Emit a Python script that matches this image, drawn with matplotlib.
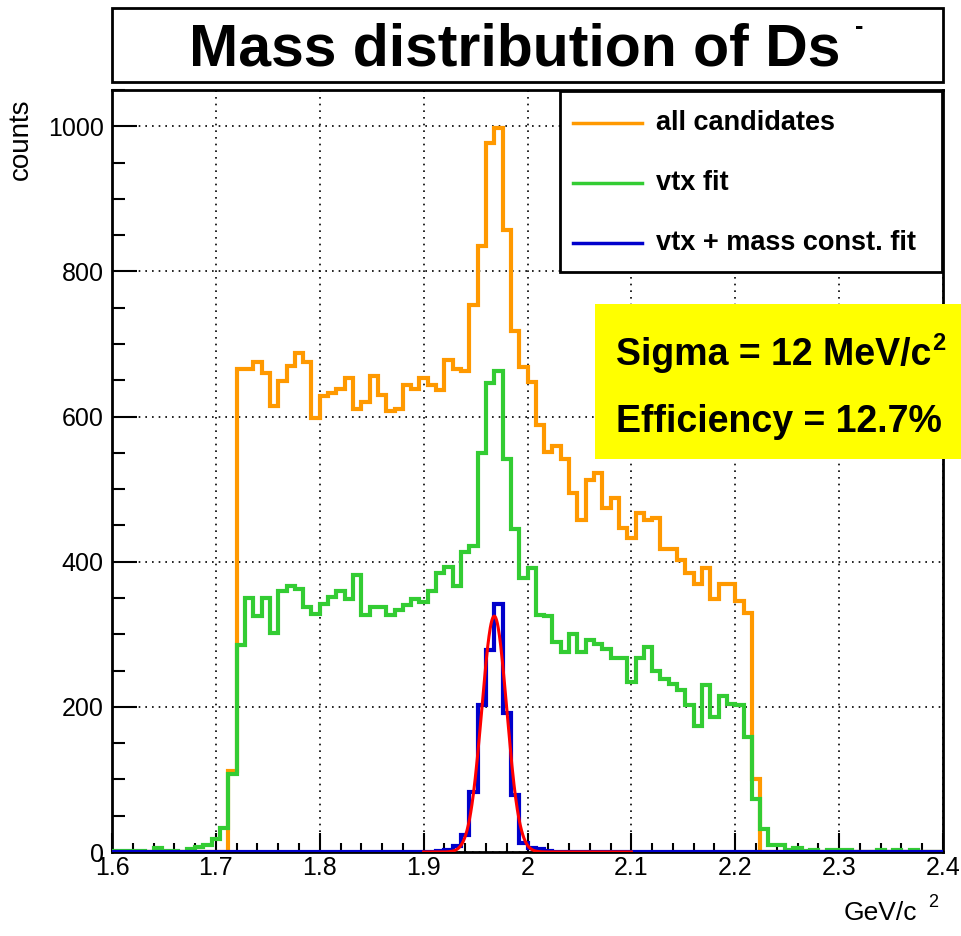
import numpy as np
import matplotlib.pyplot as plt
from matplotlib.patches import Rectangle
from matplotlib.lines import Line2D
from matplotlib.ticker import MultipleLocator

plt.rcParams['font.family'] = ['Liberation Sans', 'DejaVu Sans']

W, H = 961, 936

# 100 bins of 8 MeV between 1.6 and 2.4 GeV/c^2
x_lo, x_hi, n_bins = 1.6, 2.4, 100

all_candidates = [
    0, 0, 0, 0, 0, 0, 0, 0, 0, 0,
    0, 0, 0, 0, 112, 666, 666, 675, 660, 614,
    649, 669, 688, 675, 598, 629, 633, 638, 653, 610,
    620, 656, 630, 607, 611, 643, 638, 653, 643, 636,
    678, 666, 663, 754, 835, 977, 997, 857, 718, 668,
    647, 589, 551, 560, 541, 495, 458, 512, 522, 474,
    488, 446, 432, 467, 458, 460, 418, 418, 402, 384,
    369, 391, 349, 369, 369, 346, 330, 100, 0, 0,
    0, 0, 0, 0, 0, 0, 0, 0, 0, 0,
    0, 0, 0, 0, 0, 0, 0, 0, 0, 0,
]

vtx_fit = [
    2, 2, 2, 2, 0, 5, 2, 2, 0, 4,
    7, 10, 18, 33, 108, 285, 350, 325, 350, 302,
    359, 367, 362, 338, 328, 342, 351, 359, 348, 382,
    327, 337, 337, 327, 334, 341, 349, 345, 359, 384,
    393, 366, 413, 421, 550, 646, 663, 541, 445, 377,
    391, 327, 325, 290, 275, 300, 275, 292, 287, 280,
    268, 268, 234, 268, 283, 250, 238, 231, 223, 202,
    174, 230, 186, 215, 204, 202, 159, 73, 32, 9,
    9, 3, 5, 1, 3, 0, 3, 3, 3, 0,
    0, 0, 3, 0, 3, 0, 3, 0, 0, 0,
]

vtx_mass_fit = [
    0, 0, 0, 0, 0, 0, 0, 0, 0, 0,
    0, 0, 0, 0, 0, 0, 0, 0, 0, 0,
    0, 0, 0, 0, 0, 0, 0, 0, 0, 0,
    0, 0, 0, 0, 0, 0, 0, 0, 0, 1,
    3, 8, 24, 83, 203, 278, 342, 191, 78, 12,
    5, 4, 1, 0, 0, 0, 0, 0, 0, 0,
    0, 0, 0, 0, 0, 0, 0, 0, 0, 0,
    0, 0, 0, 0, 0, 0, 0, 0, 0, 0,
    0, 0, 0, 0, 0, 0, 0, 0, 0, 0,
    0, 0, 0, 0, 0, 0, 0, 0, 0, 0,
]

# gaussian fit parameters (sigma = 12 MeV/c^2)
fit_const = 325.0
fit_mean = 1.968
fit_sigma = 0.012
fit_lo, fit_hi = 1.9, 2.1

x_ticks = [1.6, 1.7, 1.8, 1.9, 2.0, 2.1, 2.2, 2.3, 2.4]
x_tick_labels = ["1.6", "1.7", "1.8", "1.9", "2", "2.1", "2.2", "2.3", "2.4"]
y_ticks = [0, 200, 400, 600, 800, 1000]

legend_labels = ["all candidates", "vtx fit", "vtx + mass const. fit"]
colors = ["#ff9900", "#33cc33", "#0000cc"]
fit_color = "#ff0000"


def fx(px):
    return px / W


def fy(py):
    return 1 - py / H


fig = plt.figure(figsize=(W / 100, H / 100), dpi=100)
ax = fig.add_axes([fx(112), fy(852), fx(943) - fx(112), fy(90) - fy(852)])

edges = np.linspace(x_lo, x_hi, n_bins + 1)
for vals, c in zip([all_candidates, vtx_fit, vtx_mass_fit], colors):
    ax.stairs(vals, edges, color=c, lw=3, baseline=0, zorder=3)

xf = np.linspace(fit_lo, fit_hi, 500)
ax.plot(xf, fit_const * np.exp(-0.5 * ((xf - fit_mean) / fit_sigma) ** 2),
        color=fit_color, lw=2.2, zorder=4)

ax.set_xlim(x_lo, x_hi)
ax.set_ylim(0, 1050)
ax.set_xticks(x_ticks)
ax.set_xticklabels(x_tick_labels)
ax.set_yticks(y_ticks)
ax.xaxis.set_minor_locator(MultipleLocator(0.02))
ax.yaxis.set_minor_locator(MultipleLocator(50))
ax.tick_params(axis='x', which='major', direction='in', length=14, width=1.5, labelsize=18, pad=3)
ax.tick_params(axis='x', which='minor', direction='in', length=6.5, width=1.5)
ax.tick_params(axis='y', which='major', direction='in', length=18, width=1.5, labelsize=18, pad=6)
ax.tick_params(axis='y', which='minor', direction='in', length=9, width=1.5)
ax.grid(True, which='major', color='black', linestyle=(0, (1, 3)), lw=1.2)
for s in ax.spines.values():
    s.set_linewidth(2)

# axis titles
fig.text(fx(21), fy(98), "counts", rotation=90, ha='center', va='top', fontsize=20)
fig.text(fx(917), fy(920), "GeV/c", ha='right', va='baseline', fontsize=19)
fig.text(fx(928), fy(907), "2", ha='left', va='baseline', fontsize=13)

# title box
fig.add_artist(Rectangle((fx(112), fy(82)), fx(943) - fx(112), fy(8) - fy(82),
                         transform=fig.transFigure, facecolor='white', edgecolor='black', lw=2))
fig.text(fx(515), fy(65), "Mass distribution of Ds", ha='center', va='baseline',
         fontsize=42.5, fontweight='bold')
fig.text(fx(859), fy(27), "-", ha='center', va='center', fontsize=18, fontweight='bold')

# legend
fig.add_artist(Rectangle((fx(560), fy(272)), fx(942) - fx(560), fy(91) - fy(272),
                         transform=fig.transFigure, facecolor='white', edgecolor='black', lw=2,
                         zorder=5))
for i, (lab, c) in enumerate(zip(legend_labels, colors)):
    yy = 123 + 60 * i
    fig.add_artist(Line2D([fx(573), fx(642)], [fy(yy), fy(yy)], color=c, lw=2.5, zorder=6))
    fig.text(fx(656), fy(yy), lab, ha='left', va='center', fontsize=19.5, fontweight='bold',
             zorder=6)

# fit result box
fig.add_artist(Rectangle((fx(595), fy(459)), fx(961) - fx(595), fy(304) - fy(459),
                         transform=fig.transFigure, facecolor='#ffff00', edgecolor='none', zorder=5))
fig.text(fx(616), fy(365), "Sigma = 12 MeV/c", ha='left', va='baseline', fontsize=27,
         fontweight='bold', zorder=6)
fig.text(fx(932), fy(350), "2", ha='left', va='baseline', fontsize=17,
         fontweight='bold', zorder=6)
fig.text(fx(616), fy(432), "Efficiency = 12.7%", ha='left', va='baseline', fontsize=27,
         fontweight='bold', zorder=6)

fig.savefig("out.png", dpi=100)
